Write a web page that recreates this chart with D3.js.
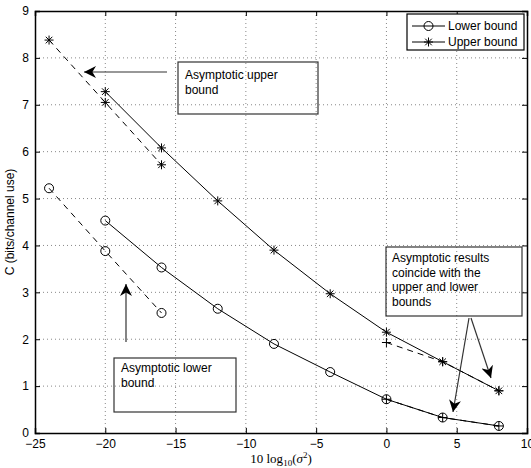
<!DOCTYPE html>
<html>
<head>
<meta charset="utf-8">
<script src="https://cdn.jsdelivr.net/npm/d3@7"></script>
<style>
  body { margin: 0; background: #fff; }
  text { font-family: "Liberation Sans", Arial, sans-serif; }
</style>
</head>
<body>
<div id="chart"></div>
<script>
// data
var snrMain = [-20, -16, -12, -8, -4, 0, 4, 8];
var lowerBound = [4.53, 3.53, 2.65, 1.9, 1.3, 0.72, 0.33, 0.15];
var upperBound = [7.28, 6.08, 4.95, 3.9, 2.97, 2.15, 1.52, 0.9];
var snrLow = [-24, -20, -16];
var asymUpperLow = [8.38, 7.05, 5.72];
var asymLowerLow = [5.22, 3.88, 2.56];
var snrHigh = [0, 4, 8];
var asymUpperHigh = [1.93, 1.52, 0.9];
var asymLowerHigh = [0.72, 0.33, 0.15];
var xTicks = [-25, -20, -15, -10, -5, 0, 5, 10];
var yTicks = [0, 1, 2, 3, 4, 5, 6, 7, 8, 9];

var W = 531, H = 468;
var mLeft = 35, mRight = 527, mTop = 11, mBottom = 433;

var svg = d3.select("#chart").append("svg")
  .attr("width", W).attr("height", H);

var x = d3.scaleLinear().domain([-25, 10]).range([mLeft, mRight]);
var y = d3.scaleLinear().domain([0, 9]).range([mBottom, mTop]);

// grid
svg.append("g").selectAll("line").data(xTicks.slice(1, -1)).enter().append("line")
  .attr("x1", d => x(d)).attr("x2", d => x(d))
  .attr("y1", mTop).attr("y2", mBottom)
  .attr("stroke", "#888").attr("stroke-width", 1).attr("stroke-dasharray", "1,3");
svg.append("g").selectAll("line").data(yTicks.slice(1, -1)).enter().append("line")
  .attr("y1", d => y(d)).attr("y2", d => y(d))
  .attr("x1", mLeft).attr("x2", mRight)
  .attr("stroke", "#888").attr("stroke-width", 1).attr("stroke-dasharray", "1,3");

// axes, matlab style ticks pointing inwards
function fmt(d) { return d < 0 ? "\u2212" + Math.abs(d) : "" + d; }
svg.append("g").attr("transform", "translate(0," + mBottom + ")")
  .call(d3.axisBottom(x).tickValues(xTicks).tickSize(-5).tickPadding(6).tickFormat(fmt));
svg.append("g").attr("transform", "translate(" + mLeft + ",0)")
  .call(d3.axisLeft(y).tickValues(yTicks).tickSize(-5).tickPadding(6).tickFormat(fmt));
svg.append("g").attr("transform", "translate(0," + mTop + ")")
  .call(d3.axisTop(x).tickValues(xTicks).tickSize(-5).tickFormat(""));
svg.append("g").attr("transform", "translate(" + mRight + ",0)")
  .call(d3.axisRight(y).tickValues(yTicks).tickSize(-5).tickFormat(""));
svg.selectAll(".domain").attr("stroke", "#000").attr("stroke-width", 1.5);
svg.selectAll(".tick line").attr("stroke", "#000");
svg.selectAll(".tick text").attr("font-size", 12).attr("fill", "#000")
  .style("font-family", "Liberation Sans, Arial, sans-serif");

// axis labels
svg.append("text")
  .attr("transform", "translate(14," + ((mTop + mBottom) / 2) + ") rotate(-90)")
  .attr("text-anchor", "middle").attr("font-size", 12)
  .text("C (bits/channel use)");

var xl = svg.append("text")
  .attr("x", (mLeft + mRight) / 2).attr("y", 463)
  .attr("text-anchor", "middle").attr("font-size", 13)
  .style("font-family", "Liberation Serif, Times New Roman, serif");
xl.append("tspan").text("10 log");
xl.append("tspan").attr("font-size", 9).attr("dy", 3).text("10");
xl.append("tspan").attr("dy", -3).text("(");
xl.append("tspan").attr("font-style", "italic").text("\u03c3");
xl.append("tspan").attr("font-size", 9).attr("dy", -5).text("2");
xl.append("tspan").attr("dy", 5).text(")");

// markers
function drawMarker(g, kind, cx, cy) {
  if (kind === "o") {
    g.append("circle").attr("cx", cx).attr("cy", cy).attr("r", 4.5)
      .attr("fill", "none").attr("stroke", "#000").attr("stroke-width", 1);
  }
  if (kind === "*" || kind === "+") {
    var r = 4.5;
    g.append("line").attr("x1", cx - r).attr("x2", cx + r).attr("y1", cy).attr("y2", cy);
    g.append("line").attr("x1", cx).attr("x2", cx).attr("y1", cy - r).attr("y2", cy + r);
  }
  if (kind === "*") {
    var q = 3.3;
    g.append("line").attr("x1", cx - q).attr("x2", cx + q).attr("y1", cy - q).attr("y2", cy + q);
    g.append("line").attr("x1", cx - q).attr("x2", cx + q).attr("y1", cy + q).attr("y2", cy - q);
  }
  g.selectAll("line").attr("stroke", "#000").attr("stroke-width", 1);
}

var line = d3.line().x(d => x(d[0])).y(d => y(d[1]));

function series(xs, ys, kind, dashed) {
  var pts = xs.map((v, i) => [v, ys[i]]);
  svg.append("path").datum(pts)
    .attr("d", line)
    .attr("fill", "none").attr("stroke", "#000").attr("stroke-width", 1)
    .attr("stroke-dasharray", dashed ? "6,5" : null);
  var g = svg.append("g");
  pts.forEach(p => drawMarker(g, kind, x(p[0]), y(p[1])));
}

series(snrMain, lowerBound, "o", false);
series(snrMain, upperBound, "*", false);
series(snrLow, asymUpperLow, "*", true);
series(snrLow, asymLowerLow, "o", true);
series(snrHigh, asymUpperHigh, "+", true);
series(snrHigh, asymLowerHigh, "+", true);

// legend
var lg = svg.append("g");
lg.append("rect").attr("x", 407).attr("y", 14).attr("width", 117).attr("height", 36)
  .attr("fill", "#fff").attr("stroke", "#000").attr("stroke-width", 1.2);
[["Lower bound", "o", 26], ["Upper bound", "*", 42]].forEach(function (e) {
  lg.append("line").attr("x1", 412).attr("x2", 445).attr("y1", e[2]).attr("y2", e[2])
    .attr("stroke", "#000");
  var mg = lg.append("g");
  drawMarker(mg, e[1], 428.5, e[2]);
  lg.append("text").attr("x", 448).attr("y", e[2] + 4).attr("font-size", 12).text(e[0]);
});

// annotations
svg.append("defs").append("marker")
  .attr("id", "ah").attr("viewBox", "0 0 10 10").attr("refX", 10).attr("refY", 5)
  .attr("markerWidth", 12).attr("markerHeight", 12).attr("markerUnits", "userSpaceOnUse")
  .attr("orient", "auto")
  .append("path").attr("d", "M0,0 L10,5 L0,10 L3,5 Z").attr("fill", "#000");

function box(x0, y0, w, h, lines, tx, ty) {
  svg.append("rect").attr("x", x0).attr("y", y0).attr("width", w).attr("height", h)
    .attr("fill", "none").attr("stroke", "#333").attr("stroke-width", 1.2);
  lines.forEach(function (t, i) {
    svg.append("text").attr("x", tx).attr("y", ty + i * 14.5).attr("font-size", 12).text(t);
  });
}
function arrow(x1, y1, x2, y2) {
  svg.append("line").attr("x1", x1).attr("y1", y1).attr("x2", x2).attr("y2", y2)
    .attr("stroke", "#333").attr("stroke-width", 1.2).attr("marker-end", "url(#ah)");
}

box(178, 62, 140, 52, ["Asymptotic upper", "bound"], 185, 79);
arrow(167, 72, 84, 72);

box(114, 358, 122, 54, ["Asymptotic lower", "bound"], 121, 372);
arrow(126, 342, 126, 284);

box(386, 247, 136, 69, ["Asymptotic results", "coincide with the", "upper and lower", "bounds"], 392, 262);
arrow(469, 318, 453, 412);
arrow(471, 318, 491, 378);
</script>
</body>
</html>
